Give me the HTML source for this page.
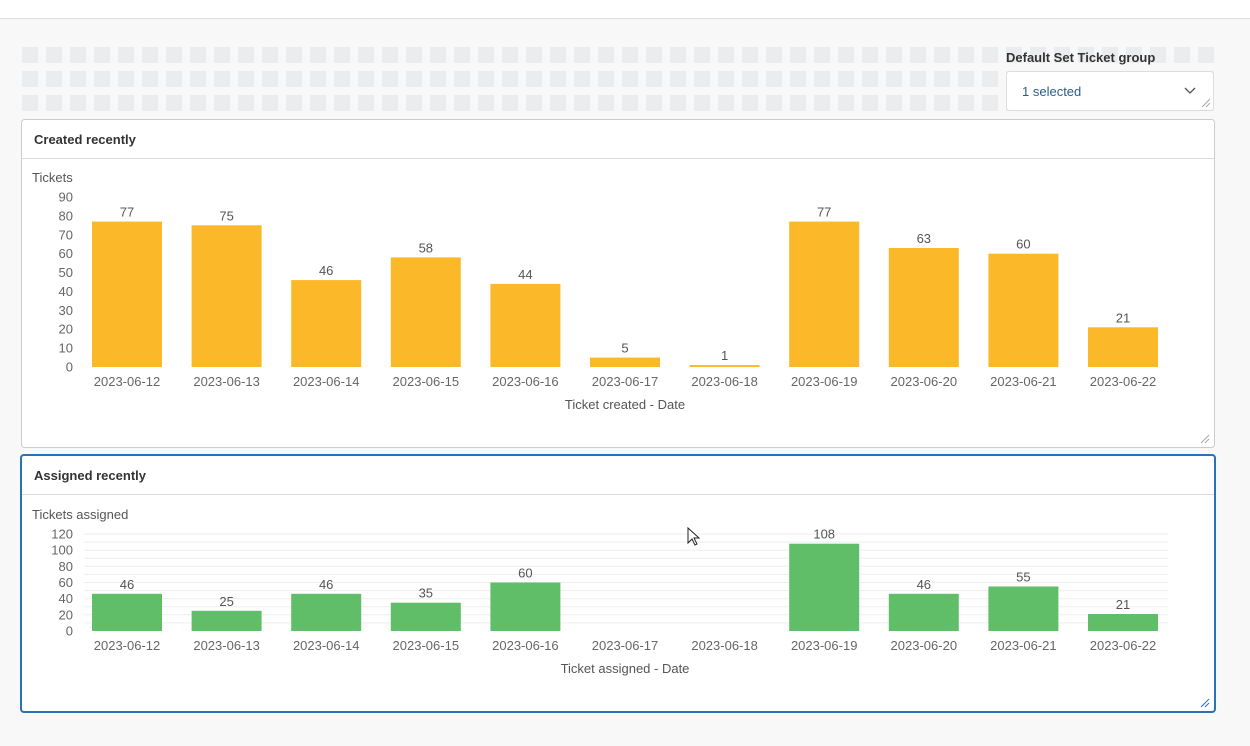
<!DOCTYPE html><html><head><meta charset="utf-8"><style>
body{margin:0;width:1250px;height:746px;overflow:hidden;background:#f8f8f8;font-family:"Liberation Sans",sans-serif;}
svg{position:absolute;left:0;top:0}
</style></head><body>
<svg width="1250" height="746" xmlns="http://www.w3.org/2000/svg" font-family="Liberation Sans, sans-serif">
<defs><pattern id="p" x="22" y="47" width="24" height="24" patternUnits="userSpaceOnUse"><rect width="16" height="16" fill="#ebecee"/></pattern></defs>
<rect x="0" y="0" width="1250" height="18" fill="#fff"/>
<line x1="0" y1="18.5" x2="1250" y2="18.5" stroke="#ddd"/>
<rect x="22" y="47" width="1192" height="64" fill="url(#p)"/>
<text x="1006" y="62" font-size="13" font-weight="bold" fill="#333">Default Set Ticket group</text>
<rect x="1006.5" y="71.5" width="207" height="39" rx="3" fill="#fff" stroke="#ddd"/>
<text x="1022" y="96" font-size="13" fill="#2a5f8a">1 selected</text>
<path d="M1185 88l5 5 5-5" fill="none" stroke="#555" stroke-width="1.3"/>
<path d="M1202 107l8-8M1206 107l4-4" stroke="#aaa"/>

<rect x="21.5" y="119.5" width="1193" height="328" rx="3" fill="#fff" stroke="#ccc"/>
<line x1="22" y1="158.5" x2="1214" y2="158.5" stroke="#ddd"/>
<text x="34" y="144" font-size="13" font-weight="bold" fill="#333">Created recently</text>
<path d="M1201 443l8-8M1205 443l4-4" stroke="#aaa"/>
<g font-size="13">
<text x="32" y="182" fill="#555">Tickets</text>
<g fill="#666" text-anchor="end">
<text x="73" y="371.5">0</text><text x="73" y="352.6">10</text><text x="73" y="333.7">20</text><text x="73" y="314.8">30</text><text x="73" y="295.9">40</text><text x="73" y="277.1">50</text><text x="73" y="258.2">60</text><text x="73" y="239.3">70</text><text x="73" y="220.4">80</text><text x="73" y="201.5">90</text>
</g>
<g fill="#fbb829">
<rect x="92" y="221.6" width="70" height="145.4"/><rect x="191.6" y="225.3" width="70" height="141.7"/><rect x="291.2" y="280.1" width="70" height="86.9"/><rect x="390.8" y="257.4" width="70" height="109.6"/><rect x="490.4" y="283.9" width="70" height="83.1"/><rect x="590" y="357.6" width="70" height="9.4"/><rect x="689.6" y="365.1" width="70" height="1.9"/><rect x="789.2" y="221.6" width="70" height="145.4"/><rect x="888.8" y="248" width="70" height="119"/><rect x="988.4" y="253.7" width="70" height="113.3"/><rect x="1088" y="327.3" width="70" height="39.7"/>
</g>
<g fill="#555" text-anchor="middle">
<text x="127" y="216.6">77</text><text x="226.6" y="220.3">75</text><text x="326.2" y="275.1">46</text><text x="425.8" y="252.4">58</text><text x="525.4" y="278.9">44</text><text x="625" y="352.6">5</text><text x="724.6" y="360.1">1</text><text x="824.2" y="216.6">77</text><text x="923.8" y="243">63</text><text x="1023.4" y="248.7">60</text><text x="1123" y="322.3">21</text>
<text x="625" y="409">Ticket created - Date</text>
</g>
<g fill="#666" text-anchor="middle">
<text x="127" y="386">2023-06-12</text><text x="226.6" y="386">2023-06-13</text><text x="326.2" y="386">2023-06-14</text><text x="425.8" y="386">2023-06-15</text><text x="525.4" y="386">2023-06-16</text><text x="625" y="386">2023-06-17</text><text x="724.6" y="386">2023-06-18</text><text x="824.2" y="386">2023-06-19</text><text x="923.8" y="386">2023-06-20</text><text x="1023.4" y="386">2023-06-21</text><text x="1123" y="386">2023-06-22</text>
</g>
</g>

<rect x="21" y="455" width="1194" height="257" rx="3" fill="#fff" stroke="#2a71b8" stroke-width="2"/>
<line x1="22" y1="494.5" x2="1214" y2="494.5" stroke="#ddd"/>
<text x="34" y="480" font-size="13" font-weight="bold" fill="#333">Assigned recently</text>
<path d="M1201 707l8-8M1205 707l4-4" stroke="#2a71b8"/>
<g font-size="13">
<text x="32" y="519" fill="#555">Tickets assigned</text>
<g stroke="#eee">
<line x1="84" x2="1168" y1="622.9" y2="622.9"/><line x1="84" x2="1168" y1="614.8" y2="614.8"/><line x1="84" x2="1168" y1="606.8" y2="606.8"/><line x1="84" x2="1168" y1="598.7" y2="598.7"/><line x1="84" x2="1168" y1="590.6" y2="590.6"/><line x1="84" x2="1168" y1="582.5" y2="582.5"/><line x1="84" x2="1168" y1="574.4" y2="574.4"/><line x1="84" x2="1168" y1="566.3" y2="566.3"/><line x1="84" x2="1168" y1="558.3" y2="558.3"/><line x1="84" x2="1168" y1="550.2" y2="550.2"/><line x1="84" x2="1168" y1="542.1" y2="542.1"/><line x1="84" x2="1168" y1="534" y2="534"/>
</g>
<g fill="#666" text-anchor="end">
<text x="73" y="635.5">0</text><text x="73" y="619.3">20</text><text x="73" y="603.2">40</text><text x="73" y="587">60</text><text x="73" y="570.8">80</text><text x="73" y="554.7">100</text><text x="73" y="538.5">120</text>
</g>
<g fill="#5fbe67">
<rect x="92" y="593.8" width="70" height="37.2"/><rect x="191.6" y="610.8" width="70" height="20.2"/><rect x="291.2" y="593.8" width="70" height="37.2"/><rect x="390.8" y="602.7" width="70" height="28.3"/><rect x="490.4" y="582.5" width="70" height="48.5"/><rect x="789.2" y="543.7" width="70" height="87.3"/><rect x="888.8" y="593.8" width="70" height="37.2"/><rect x="988.4" y="586.5" width="70" height="44.5"/><rect x="1088" y="614" width="70" height="17"/>
</g>
<g fill="#555" text-anchor="middle">
<text x="127" y="588.8">46</text><text x="226.6" y="605.8">25</text><text x="326.2" y="588.8">46</text><text x="425.8" y="597.7">35</text><text x="525.4" y="577.5">60</text><text x="824.2" y="538.7">108</text><text x="923.8" y="588.8">46</text><text x="1023.4" y="581.5">55</text><text x="1123" y="609">21</text>
<text x="625" y="673">Ticket assigned - Date</text>
</g>
<g fill="#666" text-anchor="middle">
<text x="127" y="650">2023-06-12</text><text x="226.6" y="650">2023-06-13</text><text x="326.2" y="650">2023-06-14</text><text x="425.8" y="650">2023-06-15</text><text x="525.4" y="650">2023-06-16</text><text x="625" y="650">2023-06-17</text><text x="724.6" y="650">2023-06-18</text><text x="824.2" y="650">2023-06-19</text><text x="923.8" y="650">2023-06-20</text><text x="1023.4" y="650">2023-06-21</text><text x="1123" y="650">2023-06-22</text>
</g>
</g>
<path d="M688 528v15l4-4 3 6 2-1-3-6h5z" fill="#fff" stroke="#222" stroke-width="1"/>
</svg></body></html>
